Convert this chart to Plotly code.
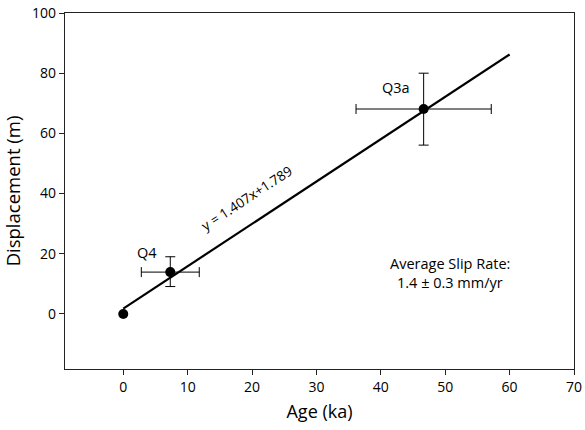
import plotly.graph_objects as go

# Data
pt_names = ["origin", "Q4", "Q3a"]
age = [0.0, 7.3, 46.65]
disp = [0.0, 13.9, 68.1]
age_err = [0.0, 4.5, 10.5]
disp_err_plus = [0.0, 5.1, 11.9]
disp_err_minus = [0.0, 4.8, 12.0]
err_mask = [False, True, True]

fit_x = [0.0, 60.0]
fit_y = [1.789, 86.209]

x_ticks = [0, 10, 20, 30, 40, 50, 60, 70]
y_ticks = [0, 20, 40, 60, 80, 100]

FONT = "Open Sans"

fig = go.Figure()

# regression line
fig.add_trace(go.Scatter(x=fit_x, y=fit_y, mode="lines",
                         line=dict(color="black", width=2.2),
                         showlegend=False, hoverinfo="skip"))

# error bars (only for points with uncertainty)
ex = [a for a, m in zip(age, err_mask) if m]
ey = [d for d, m in zip(disp, err_mask) if m]
fig.add_trace(go.Scatter(
    x=ex, y=ey, mode="markers",
    marker=dict(size=1, color="rgba(0,0,0,0)"),
    error_x=dict(type="data", array=[e for e, m in zip(age_err, err_mask) if m],
                 color="black", thickness=1, width=5),
    error_y=dict(type="data", array=[e for e, m in zip(disp_err_plus, err_mask) if m],
                 arrayminus=[e for e, m in zip(disp_err_minus, err_mask) if m],
                 color="black", thickness=1, width=5),
    showlegend=False, hoverinfo="skip"))

# points
fig.add_trace(go.Scatter(x=age, y=disp, mode="markers",
                         marker=dict(size=10, color="black"),
                         showlegend=False))

annots = [
    dict(x=3.7, y=20.3, text="Q4"),
    dict(x=42.3, y=75.2, text="Q3a"),
    dict(x=50.8, y=16.6, text="Average Slip Rate:"),
    dict(x=50.8, y=10.4, text="1.4 ± 0.3 mm/yr"),
]
for a in annots:
    fig.add_annotation(x=a["x"], y=a["y"], text=a["text"], showarrow=False,
                       font=dict(family=FONT, size=14.5, color="black"))

fig.add_annotation(x=19.2, y=38.6, text="y = 1.407x+1.789", showarrow=False,
                   textangle=-33.4, font=dict(family=FONT, size=13.5, color="black"))

axis_common = dict(showline=True, mirror=True, linecolor="#222", linewidth=1.3,
                   ticks="outside", ticklen=5, tickcolor="#222", showgrid=False,
                   zeroline=False, automargin=False, ticklabeloverflow="allow",
                   tickfont=dict(family=FONT, size=14, color="black"))

fig.update_xaxes(range=[-9.05, 70], tickvals=x_ticks,
                 title=dict(text="Age (ka)", font=dict(family=FONT, size=18, color="black"),
                            standoff=10),
                 **axis_common)
fig.update_yaxes(range=[-18.3, 100], tickvals=y_ticks,
                 title=dict(text="Displacement (m)", font=dict(family=FONT, size=18.5, color="black"),
                            standoff=12),
                 **axis_common)

fig.update_layout(width=585, height=430, margin=dict(l=65, r=11, t=13, b=61),
                  plot_bgcolor="white", paper_bgcolor="white",
                  font=dict(family=FONT))

# remove the browser's default 8px body margin so the figure sits at the window origin
fig.write_html("out.html", config={"displayModeBar": False},
               post_script="document.body.style.margin='0';document.body.style.overflow='hidden';")
